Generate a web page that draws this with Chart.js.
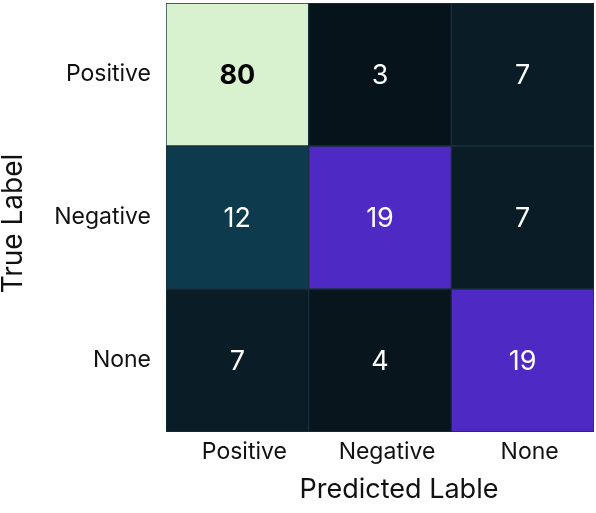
<!DOCTYPE html>
<html>
<head>
<meta charset="utf-8">
<script src="https://cdn.jsdelivr.net/npm/chart.js@4.4.1/dist/chart.umd.min.js"></script>
<style>
  html, body { margin: 0; padding: 0; background: #ffffff; }
  #wrap { width: 596px; height: 513px; position: relative; }
</style>
</head>
<body>
<div id="wrap"><canvas id="c"></canvas></div>
<script>
// ---- data ----
const predictedLabels = ['Positive', 'Negative', 'None'];
const trueLabels = ['Positive', 'Negative', 'None'];
const rowPositive = [80, 3, 7];
const rowNegative = [12, 19, 7];
const rowNone = [7, 4, 19];
const rows = [rowPositive, rowNegative, rowNone];
const xTitle = 'Predicted Lable';
const yTitle = 'True Label';

// ---- colormap ----
const cmapStops = [[3, '#07131a'], [7, '#0a1c26'], [12, '#0d3a4d'], [19, '#4f29c4'], [80, '#d8f2d0']];
function hex2rgb(h) { return [1, 3, 5].map(i => parseInt(h.substr(i, 2), 16)); }
function colorFor(v) {
  if (v <= cmapStops[0][0]) return cmapStops[0][1];
  for (let i = 1; i < cmapStops.length; i++) {
    const [v1, c1] = cmapStops[i];
    const [v0, c0] = cmapStops[i - 1];
    if (v <= v1) {
      const t = (v - v0) / (v1 - v0);
      const a = hex2rgb(c0), b = hex2rgb(c1);
      const m = a.map((x, k) => Math.round(x + (b[k] - x) * t));
      return 'rgb(' + m.join(',') + ')';
    }
  }
  return cmapStops[cmapStops.length - 1][1];
}
const maxVal = Math.max(...rows.flat());

const FONT = 'Inter, "Open Sans", "Noto Sans", sans-serif';
const n = trueLabels.length;

const datasets = rows.map((row, r) => ({
  label: trueLabels[r],
  data: row.map(() => [n - r - 1, n - r]),
  values: row,
  backgroundColor: row.map(colorFor),
  borderColor: '#17303e',
  borderWidth: 1,
  borderSkipped: false,
  grouped: false,
  categoryPercentage: 1,
  barPercentage: 1
}));

const cellText = {
  id: 'cellText',
  afterDatasetsDraw(chart) {
    const ctx = chart.ctx;
    ctx.save();
    ctx.textAlign = 'center';
    ctx.textBaseline = 'middle';
    chart.data.datasets.forEach((ds, di) => {
      const meta = chart.getDatasetMeta(di);
      meta.data.forEach((el, i) => {
        const v = ds.values[i];
        const isMax = v === maxVal;
        ctx.font = (isMax ? 'bold ' : '') + '27px ' + FONT;
        ctx.fillStyle = isMax ? '#000000' : '#ffffff';
        ctx.fillText(String(v), el.x, (el.y + el.base) / 2 + 1);
      });
    });
    ctx.restore();
  }
};

const axisTitles = {
  id: 'axisTitles',
  afterDraw(chart) {
    const ctx = chart.ctx;
    const a = chart.chartArea;
    ctx.save();
    ctx.fillStyle = '#111111';
    ctx.textAlign = 'center';
    ctx.textBaseline = 'middle';
    ctx.font = '27px ' + FONT;
    ctx.fillText(xTitle, (a.left + a.right) / 2 + 19, 490);
    ctx.translate(14, (a.top + a.bottom) / 2 + 6);
    ctx.rotate(-Math.PI / 2);
    ctx.font = '28px ' + FONT;
    ctx.fillText(yTitle, 0, 0);
    ctx.restore();
  }
};

new Chart(document.getElementById('c'), {
  type: 'bar',
  data: { labels: predictedLabels, datasets },
  plugins: [cellText, axisTitles],
  options: {
    responsive: true,
    maintainAspectRatio: false,
    animation: false,
    layout: { padding: { top: 3, right: 2, left: 0, bottom: 0 } },
    plugins: { legend: { display: false }, tooltip: { enabled: false } },
    scales: {
      x: {
        type: 'category',
        grid: { display: false, drawTicks: false },
        border: { display: false },
        ticks: { color: '#111111', font: { family: FONT, size: 23 }, padding: 6, labelOffset: 7, maxRotation: 0 },
        afterFit(s) { s.height = 81; s.paddingLeft = 0; s.paddingRight = 0; }
      },
      y: {
        type: 'linear',
        min: 0,
        max: n,
        grid: { display: false, drawTicks: false },
        border: { display: false },
        afterBuildTicks(s) { s.ticks = trueLabels.map((_, r) => ({ value: n - r - 0.5 })); },
        ticks: {
          color: '#111111',
          font: { family: FONT, size: 23 },
          padding: 15,
          callback(value) { const r = Math.round(n - 0.5 - value); return trueLabels[r]; }
        },
        afterFit(s) { s.width = 166; s.paddingTop = 0; s.paddingBottom = 0; }
      }
    }
  }
});
</script>
</body>
</html>
